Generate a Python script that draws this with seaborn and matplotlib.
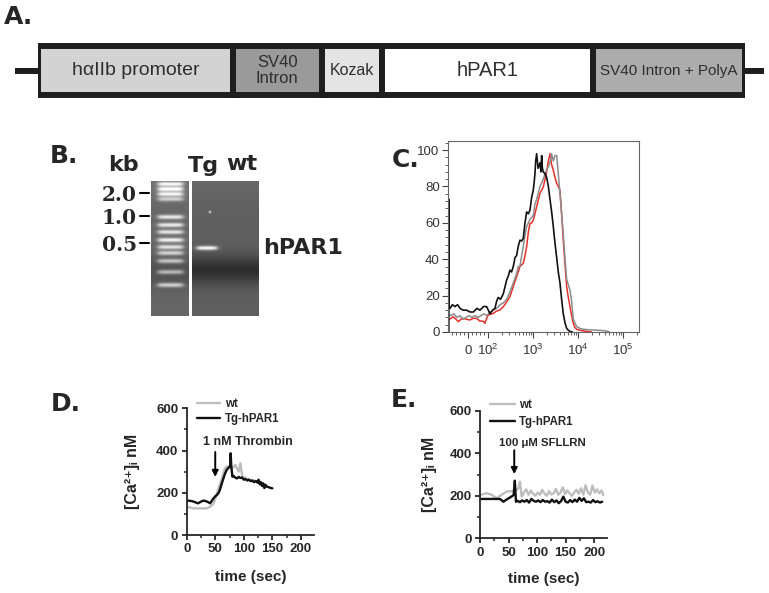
import numpy as np
import matplotlib
matplotlib.use("Agg")
import matplotlib.pyplot as plt
import seaborn as sns
from matplotlib.ticker import MultipleLocator, FixedLocator

# ---------------- data ----------------
# A. transgene construct (segment lengths in schematic units)
segLabels = ["hαIIb promoter", "SV40\nIntron", "Kozak", "hPAR1", "SV40 Intron + PolyA"]
segLength = [195, 89, 60, 211, 152]
segColors = ["#d3d3d3", "#9a9a9a", "#e4e4e4", "#ffffff", "#acacac"]
segFont = [14, 12, 11.5, 14.5, 11]

# B. gel (band rows measured on the gel image)
kbLabels = ["2.0", "1.0", "0.5"]
kbRow = [193, 216, 243]
ladderBandRow = [184, 189, 194, 199, 217, 225, 232, 240, 247, 253, 261, 272, 285]
ladderBandI = [0.55, 0.6, 0.55, 0.4, 0.5, 0.52, 0.5, 0.55, 0.5, 0.45, 0.42, 0.4, 0.45]
tgBandRow = [248]
tgBandI = [0.62]

# C. flow cytometry histograms (% of max vs fluorescence)
blackX = [-96, -95.5, -95, -94, -90, -78, -65, -52, -40, -25, -7, 10, 27, 45, 60, 78, 93, 111, 127, 143,
          156, 169, 190, 219, 240, 260, 285, 308, 335, 365, 400, 433, 470, 514, 560, 609, 665, 724, 790, 858,
          935, 1016, 1060, 1107, 1150, 1207, 1300, 1431, 1500, 1560, 1620, 1696, 1850, 2013, 2200, 2387, 2600, 2828, 3080, 3363,
          3650, 3981, 4330, 4714, 5150, 5605, 6100, 6643, 7500]
blackY = [0, 73, 27, 14, 13, 15, 14, 15, 13, 12, 12, 11, 11, 13, 12, 14, 14, 10, 12, 13,
          17, 19, 18, 21, 25, 28.6, 31, 34, 33, 36, 41, 42, 47, 50.5, 50, 51.5, 60, 66, 65, 67,
          74, 78, 82, 87, 94, 98, 90, 93, 88, 97, 90, 88, 87, 85, 80, 73, 66, 58, 49, 41,
          33, 27, 18, 10, 5, 2, 1, 0.3, 0]
grayX = [-98, -85, -70, -55, -40, -25, -10, 5, 20, 35, 50, 65, 80, 95, 110, 130, 156, 185, 219, 260,
         308, 365, 433, 470, 514, 560, 609, 665, 724, 790, 858, 935, 1016, 1100, 1207, 1300, 1431, 1560, 1696, 1850,
         2013, 2200, 2387, 2600, 2828, 3080, 3363, 3660, 3981, 4330, 4714, 5150, 5605, 6100, 6643, 7230, 7870, 9330, 11000, 13100,
         18000, 26000, 35000, 43000, 50000]
grayY = [10, 9, 10, 8, 9, 7, 8, 9, 8, 9, 8, 9, 10, 9, 11, 12, 13, 15, 16, 18,
         22, 27, 32, 36, 36, 42, 47, 53, 58, 60, 62, 63, 64, 70, 73, 76, 80, 82, 84, 87,
         89, 91, 93, 98, 94, 97, 97, 87, 76, 65, 54, 40, 29, 26, 23, 17, 7, 3, 2, 1.5,
         1.2, 1, 0.8, 0.5, 0]
redX = [-98, -73, -60, -48, -35, -23, -8, 10, 25, 43, 60, 75, 85, 95, 102, 115, 131, 155, 185, 219,
        260, 308, 365, 400, 433, 470, 514, 560, 609, 665, 724, 790, 858, 935, 1016, 1107, 1207, 1300, 1431, 1560,
        1696, 1850, 2013, 2200, 2387, 2600, 2828, 3080, 3363, 3660, 3981, 4330, 4714, 5150, 5605, 6100, 6643, 7230, 7870, 8500,
        9330, 11000, 14000, 20000]
redY = [6.6, 8.4, 7, 5.7, 7, 7.5, 7, 6.6, 7.5, 7.5, 6, 6, 4.8, 8, 9.3, 9.8, 10.2, 11.5, 12.1, 13.9,
        16.5, 19.4, 25, 28, 30.4, 33, 36, 37, 37.7, 42, 46.9, 55, 59.7, 60, 61.5, 65, 68.9, 72, 76.2, 78,
        79.8, 84, 88, 94, 98, 92, 89, 85, 81.7, 80, 78, 65, 50.5, 37, 24.9, 19, 13.9, 9, 4.8, 2.5,
        1.5, 1, 0.5, 0]
cTickVals = [0, 100, 1000, 10000, 100000]
cTickLabels = ["0", "$10^2$", "$10^3$", "$10^4$", "$10^5$"]

# D. calcium, 1 nM thrombin
wtTimeD = [0, 6, 12, 20, 28, 35, 41, 44, 47, 50, 53, 57, 61, 64, 67, 70, 73, 76, 79, 82,
           85, 88, 91, 94, 96, 98, 102, 105, 110, 115, 120, 125, 130, 135]
wtCaD = [134, 130, 126, 126, 126, 126, 134, 140, 150, 170, 197, 230, 261, 290, 316, 322, 327, 320, 316, 322,
         332, 315, 300, 340, 300, 276, 272, 265, 262, 260, 255, 250, 245, 240]
tgTimeD = [0, 5, 10, 15, 20, 25, 29, 34, 38, 41, 44, 47, 50, 53, 56, 58, 61, 64, 67, 70,
           73, 76, 77, 78, 80, 82, 85, 88, 91, 94, 97, 100, 103, 106, 109, 112, 115, 118, 121, 124,
           126, 128, 130, 132, 134, 136, 138, 141, 144, 147, 150]
tgCaD = [163, 162, 160, 155, 150, 158, 163, 160, 155, 150, 162, 174, 183, 190, 200, 213, 240, 265, 290, 308,
         318, 324, 387, 330, 276, 280, 272, 268, 275, 270, 272, 262, 265, 258, 262, 255, 258, 250, 256, 248,
         262, 240, 250, 232, 245, 222, 238, 228, 226, 223, 221]

# E. calcium, 100 uM SFLLRN
wtTimeE = [0, 12, 20, 29, 38, 47, 58, 64, 67, 70, 73, 77, 81, 85, 89, 93, 97, 101, 105, 109,
           113, 117, 121, 125, 129, 133, 137, 141, 145, 149, 153, 157, 161, 165, 169, 173, 177, 181, 185, 189,
           193, 197, 201, 205, 209, 213, 216]
wtCaE = [204, 212, 205, 188, 205, 220, 222, 227, 235, 266, 196, 215, 230, 205, 225, 210, 200, 215, 205, 228,
         210, 200, 222, 206, 212, 232, 205, 215, 240, 208, 225, 212, 200, 215, 228, 210, 235, 205, 250, 215,
         205, 248, 215, 230, 212, 225, 204]
tgTimeE = [0, 17, 35, 41, 47, 55, 59, 61, 63, 66, 70, 74, 78, 82, 86, 90, 94, 98, 102, 106,
           110, 114, 118, 122, 126, 130, 134, 138, 142, 146, 150, 154, 158, 162, 166, 170, 174, 178, 182, 186,
           190, 194, 198, 202, 206, 210, 214]
tgCaE = [185, 185, 185, 172, 183, 196, 204, 271, 172, 176, 170, 178, 172, 180, 168, 185, 176, 172, 178, 170,
         180, 172, 175, 168, 182, 170, 178, 165, 175, 196, 172, 168, 180, 170, 182, 172, 190, 176, 188, 170,
         172, 168, 180, 170, 174, 168, 172]

# ---------------- style ----------------
sns.set_style("ticks")
plt.rcParams["font.family"] = ["Liberation Sans", "DejaVu Sans"]
plt.rcParams["mathtext.fontset"] = "custom"
plt.rcParams["mathtext.rm"] = "Liberation Sans"
plt.rcParams["mathtext.it"] = "Liberation Sans:italic"
plt.rcParams["mathtext.bf"] = "Liberation Sans:bold"
plt.rcParams["mathtext.default"] = "regular"

W, H = 769, 593
fig = plt.figure(figsize=(W / 100, H / 100), dpi=100)


def rect(l, t, r, b):
    return [l / W, 1 - b / H, (r - l) / W, (b - t) / H]


canvas = fig.add_axes([0, 0, 1, 1])
canvas.axis("off")

labelFont = dict(family="DejaVu Sans", weight="bold", fontsize=18, va="center", ha="left")
for lab, (lx, ly) in zip(["A.", "B.", "C.", "D.", "E."],
                         [(4, 17), (50, 156), (392, 160), (51, 404), (391, 400)]):
    canvas.text(lx, ly, lab, **labelFont)

# ---- A ----
axA = fig.add_axes(rect(38, 43, 744.5, 98))
segLeft = np.concatenate([[0], np.cumsum(segLength)[:-1]])
axA.plot([-23, 0], [0, 0], color="#1e1e1e", lw=4.3, clip_on=False, solid_capstyle="butt")
axA.plot([sum(segLength), sum(segLength) + 20], [0, 0], color="#1e1e1e", lw=4.3, clip_on=False,
         solid_capstyle="butt")
axA.barh(0, segLength, left=segLeft, height=49.5, color=segColors, edgecolor="#1e1e1e", linewidth=4.3)
for lab, l0, ln, fs in zip(segLabels, segLeft, segLength, segFont):
    axA.text(l0 + ln / 2, 0, lab, ha="center", va="center", fontsize=fs, color="#2e2e2e", linespacing=1.15)
axA.set_xlim(0, sum(segLength))
axA.set_ylim(-27.5, 27.5)
axA.axis("off")

# ---- B (gel) ----
gelTop, gelBot, gelLeft, gelRight = 181, 316, 151, 259
gapLeft, gapRight = 189, 192
ys = np.arange(gelTop, gelBot) + 0.5
xs = np.arange(gelLeft, gelRight) + 0.5
Y, X = np.meshgrid(ys, xs, indexing="ij")
gel = np.where(X < gapLeft, 0.40, 0.37) + 0.03 * np.exp(-((Y - gelTop) / 25) ** 2)
gel = gel - 0.19 * np.exp(-((Y - 270) / 14) ** 2) * (X > gapRight)
gel = gel - 0.08 * np.exp(-((Y - 272) / 16) ** 2) * (X < gapLeft)


def lane(x0, x1):
    return 1 / (1 + np.exp(-(X - x0) / 1.5)) / (1 + np.exp((X - x1) / 1.5))


for yb, ib in zip(ladderBandRow, ladderBandI):
    gel = gel + ib * np.exp(-((Y - yb) / 2.3) ** 2) * lane(158, 183)
for yb, ib in zip(tgBandRow, tgBandI):
    gel = gel + ib * np.exp(-((Y - yb) / 2.1) ** 2) * lane(197, 217)
gel = gel + 0.5 * np.exp(-((Y - 212) ** 2 + (X - 210) ** 2) / 1.5)
gel = np.clip(gel, 0, 1)
gel[:, (xs > gapLeft) & (xs < gapRight)] = 1.0
canvas.imshow(gel, cmap="gray", vmin=0, vmax=1, extent=(gelLeft, gelRight, gelBot, gelTop),
              interpolation="bilinear", aspect="auto")
for lab, yk in zip(kbLabels, kbRow):
    canvas.plot([140, 149], [yk, yk], color="black", lw=1.5)
    canvas.text(137, yk + 2, lab, ha="right", va="center", family="DejaVu Serif", weight="bold", fontsize=14.5)
bFont = dict(family="DejaVu Sans", weight="bold", fontsize=16, va="center")
canvas.text(123, 165, "kb", ha="center", **bFont)
canvas.text(203, 166, "Tg", ha="center", **bFont)
canvas.text(242, 164, "wt", ha="center", **bFont)
canvas.text(263, 248, "hPAR1", ha="left", **bFont)
canvas.set_xlim(0, W)
canvas.set_ylim(H, 0)

# ---- C ----
LIN_DEC = 0.444  # decades given to the 0..100 linear part of the biexponential axis


def biex_fwd(x):
    x = np.asarray(x, dtype=float)
    a = np.maximum(np.abs(x), 1e-9)
    return np.where(a <= 100, x / 100 * LIN_DEC, np.sign(x) * (LIN_DEC + np.log10(a / 100)))


def biex_inv(y):
    y = np.asarray(y, dtype=float)
    a = np.abs(y)
    return np.where(a <= LIN_DEC, y / LIN_DEC * 100, np.sign(y) * 100 * 10 ** (a - LIN_DEC))


axC = fig.add_axes(rect(448, 141, 639, 332))
sns.lineplot(x=redX, y=redY, ax=axC, color="#e8302a", lw=1.1, estimator=None, sort=False)
sns.lineplot(x=grayX, y=grayY, ax=axC, color="#8c8c8c", lw=1.1, estimator=None, sort=False)
sns.lineplot(x=blackX, y=blackY, ax=axC, color="#111111", lw=1.2, estimator=None, sort=False)
axC.set_xscale("function", functions=(biex_fwd, biex_inv))
axC.set_xlim(-100, 2.27e5)
axC.set_ylim(0, 105)
axC.xaxis.set_major_locator(FixedLocator(cTickVals))
axC.set_xticklabels([""] + cTickLabels[1:])
minorC = [-80, -60, -40, -20, 20, 40, 60, 80] + [m * 10 ** k for k in (2, 3, 4) for m in range(2, 10)] + [2e5]
axC.xaxis.set_minor_locator(FixedLocator(minorC))
axC.yaxis.set_major_locator(MultipleLocator(20))
axC.yaxis.set_minor_locator(MultipleLocator(4))
axC.set_xlabel("")
axC.set_ylabel("")
axC.tick_params(which="major", length=4, width=0.8, labelsize=9.5, colors="#444444", labelcolor="#333333", pad=2)
axC.tick_params(axis="x", which="major", pad=4)
axC.tick_params(which="minor", length=2, width=0.6, colors="#444444")
for sp in axC.spines.values():
    sp.set_color("#666666")
    sp.set_linewidth(0.8)
# zero label of the biexponential axis, written under the 0 position
zeroPx = 448 + (biex_fwd(cTickVals[0]) - biex_fwd(-100)) / (biex_fwd(2.27e5) - biex_fwd(-100)) * (639 - 448)
canvas.text(float(zeroPx), 345, cTickLabels[0], ha="center", va="top", fontsize=9.5, color="#333333")


# ---- D / E ----
def calcium_panel(ax, wtT, wtV, tgT, tgV, annot, arrowX, arrowTop, arrowTip, textX, textY, annotSize,
                  ylabX, xlabY, legAnchor, legSpacing, legHandle, legPad):
    sns.lineplot(x=wtT, y=wtV, ax=ax, color="#bdbdbd", lw=1.7, label="wt", estimator=None, sort=False)
    sns.lineplot(x=tgT, y=tgV, ax=ax, color="#111111", lw=1.7, label="Tg-hPAR1", estimator=None, sort=False)
    ax.set_xlim(0, 223)
    ax.set_ylim(0, 600)
    sns.despine(ax=ax)
    for sp in ["left", "bottom"]:
        ax.spines[sp].set_linewidth(1.3)
    ax.set_xticks([0, 50, 100, 150, 200])
    ax.set_yticks([0, 200, 400, 600])
    ax.xaxis.set_minor_locator(MultipleLocator(25))
    ax.yaxis.set_minor_locator(MultipleLocator(100))
    ax.tick_params(which="major", direction="out", length=3.5, width=1.3, pad=2.5, labelsize=9.5)
    ax.tick_params(which="minor", direction="out", length=2.2, width=1.1)
    for t in ax.get_xticklabels() + ax.get_yticklabels():
        t.set_fontweight("bold")
    ax.set_xlabel("time (sec)", fontsize=11, fontweight="bold")
    ax.set_ylabel("[Ca²⁺]ᵢ nM", fontsize=11.5, fontweight="bold")
    ax.yaxis.set_label_coords(ylabX, 0.5)
    ax.xaxis.set_label_coords(0.5, xlabY)
    ax.annotate("", xy=(arrowX, arrowTip), xytext=(arrowX, arrowTop),
                arrowprops=dict(arrowstyle="-|>", lw=1.4, color="black", mutation_scale=9, shrinkA=0, shrinkB=0))
    ax.text(textX, textY, annot, ha="center", va="center", fontsize=annotSize, fontweight="bold")
    ax.legend(loc="upper left", bbox_to_anchor=(legAnchor[0] / W, 1 - legAnchor[1] / H),
              bbox_transform=fig.transFigure, frameon=False, borderpad=0, borderaxespad=0,
              handlelength=legHandle, handletextpad=legPad, labelspacing=legSpacing,
              prop={"weight": "bold", "size": 8.3})


axD = fig.add_axes(rect(186.7, 408.3, 314, 535))
calcium_panel(axD, wtTimeD, wtCaD, tgTimeD, tgCaD, "1 nM Thrombin", 50, 393, 275, 108, 440, 9,
              -0.367, -0.276, (197, 398), 0.25, 2.0, 0.45)

axE = fig.add_axes(rect(480, 410.7, 607.3, 538.3))
calcium_panel(axE, wtTimeE, wtCaE, tgTimeE, tgCaE, "100 μM SFLLRN", 60, 414, 302, 110, 448, 8.2,
              -0.338, -0.262, (490, 399), 0.4, 2.2, 0.3)

fig.savefig("out.png", dpi=100)
